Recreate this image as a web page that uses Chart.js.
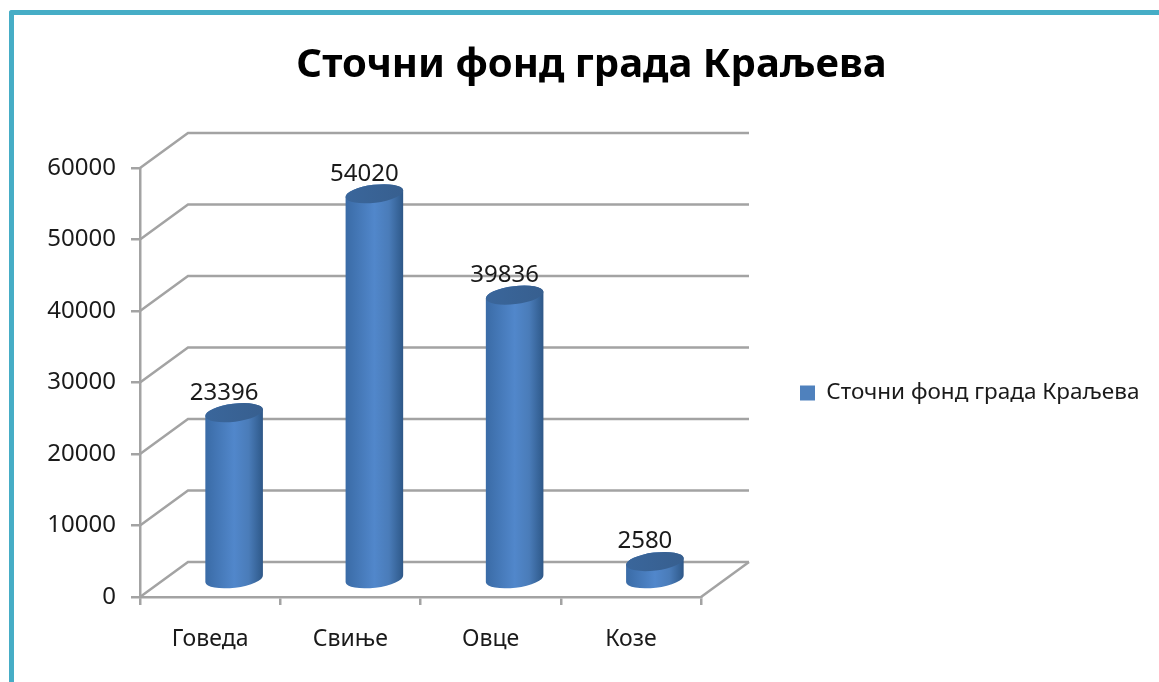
<!DOCTYPE html>
<html>
<head>
<meta charset="utf-8">
<script src="https://cdn.jsdelivr.net/npm/chart.js@4"></script>
<style>
  body { margin: 0; background: #fff; overflow: hidden; }
  #frame { position: absolute; left: 9px; top: 10px; right: -10px; bottom: -10px;
           border-top: 5px solid #46adc6; border-left: 5px solid #46adc6; border-top-left-radius: 3px; }
  #grafico { position: absolute; left: 0; top: 0; }
</style>
</head>
<body>
<div id="frame"></div>
<canvas id="grafico" width="1159" height="682"></canvas>
<script>
const categories = ['Говеда', 'Свиње', 'Овце', 'Козе']
const values = [23396, 54020, 39836, 2580]
const yTicks = [0, 10000, 20000, 30000, 40000, 50000, 60000]
const seriesName = 'Сточни фонд града Краљева'

// depth of the fake 3D box
const wallX = 48, wallY = -35
const barX = 24, barY = -17
const gridColor = '#a3a3a3'

// walls and floor
const walls = {
  id: 'walls',
  afterLayout(chart) {
    // legend sits lower than the chart area centre
    chart.legend.top += 52
    chart.legend.bottom += 52
  },
  beforeDatasetsDraw(chart) {
    const c = chart.ctx, y = chart.scales.y, a = chart.chartArea
    c.save()
    c.strokeStyle = gridColor
    c.lineWidth = 2.5
    yTicks.forEach(t => {
      const py = y.getPixelForValue(t)
      c.beginPath()
      c.moveTo(a.left, py)
      c.lineTo(a.left + wallX, py + wallY)
      c.lineTo(a.right + wallX, py + wallY)
      c.stroke()
    })
    c.beginPath()
    c.moveTo(a.right, a.bottom)
    c.lineTo(a.right + wallX, a.bottom + wallY)
    c.stroke()
    c.restore()
  }
}

// cylinders + value labels
const cylinders = {
  id: 'cylinders',
  beforeDatasetDraw() { return false },
  afterDatasetsDraw(chart) {
    const c = chart.ctx
    const rot = -7 * Math.PI / 180
    chart.getDatasetMeta(0).data.forEach((bar, i) => {
      const cx = bar.x + barX, top = bar.y + barY, base = bar.base + barY
      const rx = bar.width / 2, ry = 9

      const g = c.createLinearGradient(cx - rx, 0, cx + rx, 0)
      g.addColorStop(0, '#3a6ba6')
      g.addColorStop(0.5, '#5187cb')
      g.addColorStop(0.75, '#4a7cb9')
      g.addColorStop(0.95, '#335f92')
      g.addColorStop(1, '#2e5685')

      c.save()
      c.beginPath()
      c.ellipse(cx, top, rx, ry, rot, Math.PI, 0)
      c.ellipse(cx, base, rx, ry, rot, 0, Math.PI)
      c.closePath()
      c.fillStyle = g
      c.fill()

      const cap = c.createLinearGradient(cx - rx, 0, cx + rx, 0)
      cap.addColorStop(0, '#3a669b')
      cap.addColorStop(1, '#375f8f')
      c.beginPath()
      c.ellipse(cx, top, rx, ry, rot, 0, Math.PI * 2)
      c.fillStyle = cap
      c.fill()

      c.font = '24px "Noto Sans"'
      c.fillStyle = '#1a1a1a'
      c.textAlign = 'center'
      c.textBaseline = 'middle'
      c.fillText(String(values[i]), cx - 10, top - 20)
      c.restore()
    })
  }
}

new Chart(document.getElementById('grafico'), {
  type: 'bar',
  data: {
    labels: categories,
    datasets: [{
      label: seriesName,
      data: values,
      backgroundColor: '#4f81bd',
      barThickness: 58
    }]
  },
  options: {
    responsive: false,
    animation: false,
    layout: { padding: { left: 34, right: 10 } },
    scales: {
      x: {
        afterFit(s) { s.height = 85 },
        grid: { offset: true, drawOnChartArea: false, color: gridColor, lineWidth: 2.5, tickLength: 8 },
        border: { color: gridColor, width: 2.5 },
        ticks: { font: { family: 'Noto Sans', size: 23 }, color: '#1a1a1a', padding: 21, maxRotation: 0 }
      },
      y: {
        min: yTicks[0],
        max: yTicks[yTicks.length - 1],
        afterFit(s) { s.width = 106 },
        grid: { drawOnChartArea: false, color: gridColor, lineWidth: 2.5, tickLength: 9 },
        border: { color: gridColor, width: 2.5 },
        ticks: {
          stepSize: yTicks[1],
          callback: v => String(v),
          font: { family: 'Noto Sans', size: 24 },
          color: '#1a1a1a',
          padding: 15
        }
      }
    },
    plugins: {
      title: {
        display: true,
        text: seriesName,
        color: '#000',
        font: { family: 'Noto Sans', size: 40, weight: 'bold' },
        padding: { top: 42, bottom: 78 }
      },
      legend: {
        position: 'right',
        maxWidth: 448,
        labels: {
          font: { family: 'Noto Sans', size: 22.5 },
          color: '#1a1a1a',
          boxWidth: 15,
          boxHeight: 15,
          padding: 99
        }
      },
      tooltip: { enabled: false }
    }
  },
  plugins: [walls, cylinders]
})
</script>
</body>
</html>
